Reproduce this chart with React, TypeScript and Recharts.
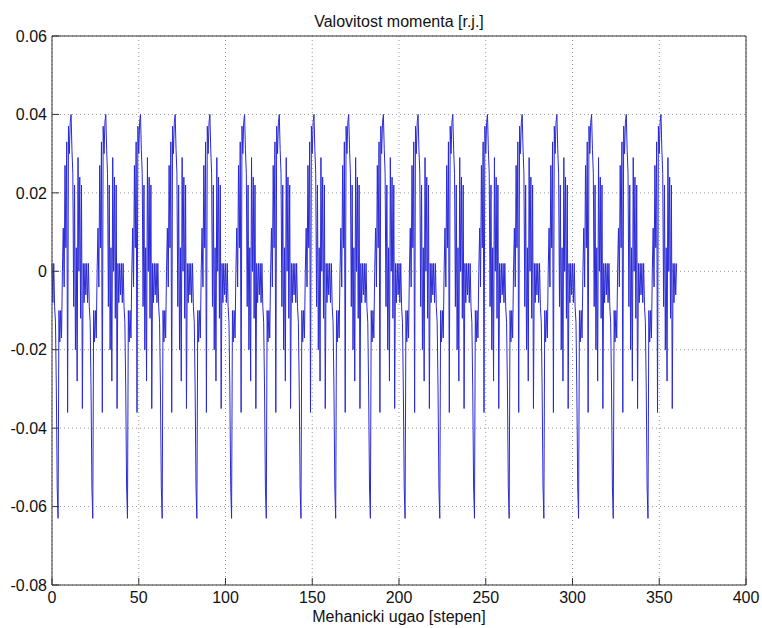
import React from 'react';
import { LineChart, Line, XAxis, YAxis, CartesianGrid, Label } from 'recharts';

// Axis ticks
const X_TICKS = [0, 50, 100, 150, 200, 250, 300, 350, 400];
const Y_TICKS = [-0.08, -0.06, -0.04, -0.02, 0, 0.02, 0.04, 0.06];

// The torque ripple is periodic: 18 identical periods of 20 degrees over 0..360.
const PERIOD_DEG = 20;
const PERIOD_COUNT = 18;
const SAMPLE_STEP = 0.5;
// One period of the ripple, one value every 0.5 degree
const PERIOD_VALUES = [
  0.002, -0.008, 0.002, -0.009, -0.013, -0.03, -0.055, -0.063, -0.01, -0.018,
  -0.01, -0.017, 0.0, 0.011, -0.004, 0.027, 0.006, 0.033, -0.036, 0.037,
  0.03, 0.038, 0.04, 0.031, 0.025, -0.009, 0.022, -0.02, 0.006, -0.028,
  0.029, 0.0, 0.024, -0.012, 0.022, -0.035, 0.002, -0.008, 0.002, -0.006,
];
const END_ANGLE = 360;
const END_VALUE = 0.002;

const data: { angle: number; ripple: number }[] = [];
for (let k = 0; k < PERIOD_COUNT; k++) {
  PERIOD_VALUES.forEach((v, i) => {
    data.push({ angle: k * PERIOD_DEG + i * SAMPLE_STEP, ripple: v });
  });
}
data.push({ angle: END_ANGLE, ripple: END_VALUE });

const FONT = '"Liberation Sans", Arial, Helvetica, sans-serif';
const TEXT_COLOR = '#111';
const AXIS_COLOR = '#333';
const tickStyle = { fill: TEXT_COLOR, fontSize: 16, fontFamily: FONT };

const fmtY = (v: number) => (v === 0 ? '0' : v.toFixed(2));

export default function App() {
  return (
    <div style={{ position: 'absolute', left: 0, top: 0, background: '#fff' }}>
      <LineChart width={762} height={628} data={data} margin={{ top: 0, right: 0, bottom: 0, left: 0 }}>
        <CartesianGrid stroke="#9a9a9a" strokeDasharray="1 3" />
        <XAxis
          dataKey="angle"
          type="number"
          domain={[0, 400]}
          ticks={X_TICKS}
          interval={0}
          height={43}
          tickSize={-7}
          tickMargin={14}
          tick={tickStyle}
          stroke={AXIS_COLOR}
          axisLine={{ stroke: AXIS_COLOR }}
          tickLine={{ stroke: AXIS_COLOR }}
        >
          <Label
            value="Mehanicki ugao [stepen]"
            position="insideBottom"
            offset={6}
            fill={TEXT_COLOR}
            fontSize={16}
            fontFamily={FONT}
          />
        </XAxis>
        <XAxis
          xAxisId="top"
          orientation="top"
          dataKey="angle"
          type="number"
          domain={[0, 400]}
          ticks={X_TICKS}
          interval={0}
          height={36}
          tickSize={-7}
          tick={false}
          stroke={AXIS_COLOR}
          axisLine={{ stroke: AXIS_COLOR }}
          tickLine={{ stroke: AXIS_COLOR }}
        >
          <Label
            value="Valovitost momenta [r.j.]"
            position="insideBottom"
            offset={9}
            fill={TEXT_COLOR}
            fontSize={16}
            fontFamily={FONT}
          />
        </XAxis>
        <YAxis
          type="number"
          domain={[-0.08, 0.06]}
          ticks={Y_TICKS}
          interval={0}
          width={52}
          tickSize={-7}
          tickMargin={12}
          tick={tickStyle}
          tickFormatter={fmtY}
          stroke={AXIS_COLOR}
          axisLine={{ stroke: AXIS_COLOR }}
          tickLine={{ stroke: AXIS_COLOR }}
          allowDataOverflow
        />
        <YAxis
          yAxisId="right"
          orientation="right"
          type="number"
          domain={[-0.08, 0.06]}
          ticks={Y_TICKS}
          interval={0}
          width={16}
          tickSize={-7}
          tick={false}
          stroke={AXIS_COLOR}
          axisLine={{ stroke: AXIS_COLOR }}
          tickLine={{ stroke: AXIS_COLOR }}
          allowDataOverflow
        />
        <Line
          type="linear"
          dataKey="ripple"
          stroke="#2a2ad6"
          strokeWidth={1}
          dot={false}
          isAnimationActive={false}
        />
      </LineChart>
    </div>
  );
}
